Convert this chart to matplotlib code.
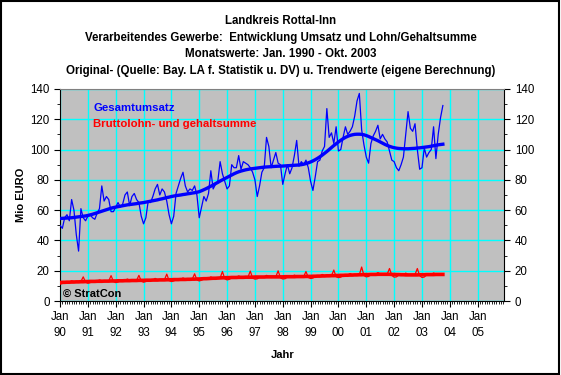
import numpy as np
import matplotlib
matplotlib.use("Agg")
import matplotlib.pyplot as plt
from matplotlib.patches import Rectangle
from matplotlib.ticker import MultipleLocator

plt.rcParams["font.family"] = ["Liberation Sans", "DejaVu Sans"]

# monthly values Jan 1990 - Oct 2003 (Mio EURO)
umsatz = [
    50, 48, 55, 57, 53, 67, 60, 44, 33, 61, 55, 53,            # 1990
    56, 57, 55, 54, 58, 61, 76, 66, 69, 67, 59, 59,            # 1991
    62, 65, 62, 64, 70, 72, 63, 69, 71, 67, 65, 56,            # 1992
    51, 55, 66, 65, 69, 74, 77, 70, 74, 72, 66, 57,            # 1993
    51, 56, 71, 76, 81, 85, 76, 72, 74, 73, 76, 70,            # 1994
    55, 62, 69, 66, 71, 86, 74, 77, 79, 92, 84, 79,            # 1995
    74, 76, 90, 88, 88, 96, 87, 92, 91, 90, 88, 85,            # 1996
    80, 69, 76, 85, 88, 108, 102, 88, 93, 98, 91, 90,          # 1997
    77, 84, 90, 84, 88, 96, 106, 89, 92, 90, 93, 88,           # 1998
    79, 73, 82, 92, 93, 99, 102, 127, 108, 111, 104, 115,      # 1999
    99, 100, 108, 115, 110, 112, 115, 122, 132, 137, 113, 103, # 2000
    95, 91, 104, 109, 112, 116, 107, 110, 107, 105, 99, 93,    # 2001
    92, 88, 86, 90, 95, 110, 125, 114, 112, 117, 100, 87,      # 2002
    88, 101, 95, 98, 100, 115, 94, 110, 121, 129,              # 2003
]

umsatz_trend = [
    54.5, 54.6, 54.7, 54.8, 54.9, 55.0, 55.2, 55.4, 55.6, 55.8, 56.0, 56.2,
    56.5, 56.9, 57.3, 57.8, 58.3, 58.8, 59.3, 59.8, 60.3, 60.8, 61.3, 61.7,
    62.0, 62.3, 62.6, 62.9, 63.2, 63.5, 63.7, 63.9, 64.1, 64.3, 64.6, 64.8,
    65.0, 65.3, 65.6, 65.9, 66.2, 66.5, 66.8, 67.2, 67.5, 67.9, 68.3, 68.6,
    69.0, 69.3, 69.6, 69.8, 70.0, 70.3, 70.5, 70.8, 71.0, 71.3, 71.5, 71.8,
    72.2, 72.8, 73.5, 74.2, 75.0, 75.8, 76.6, 77.5, 78.3, 79.2, 80.0, 80.8,
    81.6, 82.4, 83.2, 84.0, 84.7, 85.3, 85.8, 86.2, 86.6, 86.9, 87.2, 87.4,
    87.6, 87.8, 88.0, 88.2, 88.4, 88.5, 88.6, 88.7, 88.8, 88.9, 89.0, 89.0,
    89.1, 89.2, 89.3, 89.4, 89.5, 89.6, 89.7, 89.8, 90.0, 90.3, 90.7, 91.2,
    91.8, 92.5, 93.3, 94.2, 95.2, 96.3, 97.5, 98.7, 100.0, 101.3, 102.6, 103.8,
    105.0, 106.1, 107.1, 108.0, 108.7, 109.3, 109.7, 110.0, 110.1, 110.1, 110.0, 109.7,
    109.2, 108.6, 107.9, 107.2, 106.5, 105.8, 105.0, 104.2, 103.4, 102.7, 102.1, 101.6,
    101.2, 100.9, 100.7, 100.6, 100.5, 100.5, 100.5, 100.6, 100.7, 100.8, 101.0, 101.1,
    101.3, 101.5, 101.7, 101.9, 102.2, 102.5, 102.8, 103.1, 103.3, 103.5,
]

lohn = [
    11.2, 11.6, 12.3, 12.4, 12.5, 13.4, 12.9, 12.4, 12.6, 12.9, 16.0, 12.5,
    11.8, 12.2, 12.9, 13.0, 13.1, 14.0, 13.5, 12.9, 13.1, 13.3, 16.8, 13.0,
    12.2, 12.6, 13.3, 13.4, 13.5, 14.6, 13.8, 13.3, 13.5, 13.7, 17.0, 13.2,
    12.5, 12.9, 13.6, 13.8, 13.9, 15.0, 14.2, 13.7, 13.9, 14.1, 17.8, 13.6,
    12.9, 13.3, 14.0, 14.2, 14.3, 15.3, 14.6, 14.1, 14.3, 14.5, 18.0, 14.0,
    13.3, 13.8, 14.6, 14.8, 14.9, 16.0, 15.2, 14.8, 15.1, 15.3, 19.5, 14.8,
    14.0, 14.4, 15.4, 15.6, 15.6, 16.6, 15.9, 15.4, 15.7, 15.8, 19.8, 15.2,
    14.5, 14.7, 15.7, 15.9, 15.9, 17.0, 16.2, 15.6, 15.9, 16.0, 20.0, 15.4,
    14.6, 14.8, 15.9, 16.1, 16.1, 17.2, 16.4, 15.9, 16.1, 16.2, 19.5, 15.6,
    14.9, 15.2, 16.2, 16.5, 16.5, 17.6, 16.8, 16.3, 16.6, 16.8, 20.5, 16.0,
    15.5, 15.8, 16.8, 17.1, 17.1, 18.2, 17.4, 17.0, 17.3, 17.4, 22.5, 16.8,
    16.0, 16.3, 17.4, 17.6, 17.6, 18.8, 17.9, 17.4, 17.7, 17.8, 21.5, 17.0,
    15.8, 16.0, 17.2, 17.4, 17.3, 18.5, 17.6, 17.2, 17.4, 17.5, 21.5, 16.8,
    15.6, 15.9, 17.3, 17.5, 17.5, 18.6, 17.8, 17.4, 17.7, 17.8,
]

lohn_trend = [
    12.3, 12.4, 12.4, 12.5, 12.5, 12.6, 12.6, 12.7, 12.7, 12.8, 12.8, 12.9,
    12.9, 13.0, 13.0, 13.0, 13.1, 13.1, 13.1, 13.2, 13.2, 13.2, 13.3, 13.3,
    13.3, 13.4, 13.4, 13.4, 13.5, 13.5, 13.5, 13.6, 13.6, 13.6, 13.7, 13.7,
    13.7, 13.8, 13.8, 13.8, 13.9, 13.9, 13.9, 14.0, 14.0, 14.0, 14.1, 14.1,
    14.1, 14.2, 14.2, 14.2, 14.3, 14.3, 14.3, 14.4, 14.4, 14.5, 14.5, 14.6,
    14.6, 14.7, 14.8, 14.8, 14.9, 15.0, 15.1, 15.1, 15.2, 15.3, 15.4, 15.4,
    15.5, 15.5, 15.6, 15.6, 15.6, 15.7, 15.7, 15.7, 15.8, 15.8, 15.8, 15.8,
    15.9, 15.9, 15.9, 15.9, 15.9, 16.0, 16.0, 16.0, 16.0, 16.0, 16.0, 16.0,
    16.0, 16.1, 16.1, 16.1, 16.1, 16.1, 16.2, 16.2, 16.2, 16.2, 16.3, 16.3,
    16.3, 16.4, 16.4, 16.5, 16.5, 16.6, 16.6, 16.7, 16.7, 16.8, 16.8, 16.9,
    16.9, 17.0, 17.0, 17.1, 17.1, 17.2, 17.2, 17.3, 17.3, 17.4, 17.4, 17.5,
    17.5, 17.5, 17.6, 17.6, 17.6, 17.7, 17.7, 17.7, 17.7, 17.7, 17.7, 17.6,
    17.6, 17.5, 17.5, 17.4, 17.4, 17.3, 17.3, 17.3, 17.3, 17.3, 17.3, 17.4,
    17.4, 17.4, 17.5, 17.5, 17.5, 17.5, 17.6, 17.6, 17.6, 17.6,
]

years = ["90", "91", "92", "93", "94", "95", "96", "97", "98", "99",
         "00", "01", "02", "03", "04", "05"]
tick_labels = ["Jan\n" + y for y in years]

title = ("Landkreis Rottal-Inn\n"
         "Verarbeitendes Gewerbe:  Entwicklung Umsatz und Lohn/Gehaltsumme\n"
         "Monatswerte: Jan. 1990 - Okt. 2003\n"
         "Original- (Quelle: Bay. LA f. Statistik u. DV) u. Trendwerte (eigene Berechnung)")

months = np.arange(len(umsatz))

fig = plt.figure(figsize=(5.61, 3.75), dpi=100)
fig.patch.set_facecolor("white")
fig.patches.append(Rectangle((0.002, 0.003), 0.995, 0.994, transform=fig.transFigure,
                             fill=False, edgecolor="black", linewidth=1.5))

ax = fig.add_axes([0.107, 0.197, 0.792, 0.566])
ax.set_facecolor("#C0C0C0")

ax.plot(months, umsatz, color="#0000FF", linewidth=0.9, zorder=3)
ax.plot(months, umsatz_trend, color="#0000FF", linewidth=2.4, zorder=4)
ax.plot(months, lohn, color="#FF0000", linewidth=0.9, zorder=3)
ax.plot(months, lohn_trend, color="#FF0000", linewidth=2.6, zorder=4)

ax.set_xlim(0, 191.5)
ax.set_ylim(0, 140)
ax.set_xticks(np.arange(len(years)) * 12)
ax.set_xticklabels(tick_labels, fontsize=8.3, linespacing=1.45)
ax.xaxis.set_minor_locator(MultipleLocator(1))
ax.set_yticks(np.arange(0, 141, 20))
ax.yaxis.set_minor_locator(MultipleLocator(10))
ax.tick_params(axis="both", which="major", direction="out", length=4, width=0.8,
               labelsize=8.3, color="black")
ax.tick_params(axis="both", which="minor", direction="out", length=2, width=0.6)
ax.tick_params(axis="x", pad=3)
ax.tick_params(axis="y", right=True, labelright=True, which="both")

ax.grid(True, which="major", color="#00FFFF", linewidth=1.0, zorder=1)
ax.set_axisbelow(True)
ax.spines["top"].set_color("#808080")
for s in ["left", "right", "bottom"]:
    ax.spines[s].set_color("black")

ax.text(0.075, 0.91, "Gesamtumsatz", transform=ax.transAxes, color="#0000FF",
        fontsize=8.2, fontweight="bold", va="center")
ax.text(0.075, 0.835, "Bruttolohn- und gehaltsumme", transform=ax.transAxes,
        color="#FF0000", fontsize=8.2, fontweight="bold", va="center")
ax.text(0.006, 0.035, "\u00a9 StratCon", transform=ax.transAxes, color="black",
        fontsize=8, fontweight="bold", va="center")

fig.text(0.5, 0.96, title, ha="center", va="top", fontsize=8.3, fontweight="bold",
         linespacing=1.52)
ax.set_ylabel("Mio EURO", fontsize=8, fontweight="bold", labelpad=3)
ax.set_xlabel("Jahr", fontsize=8, fontweight="bold", labelpad=8)

fig.savefig("out.png", dpi=100, facecolor="white")
